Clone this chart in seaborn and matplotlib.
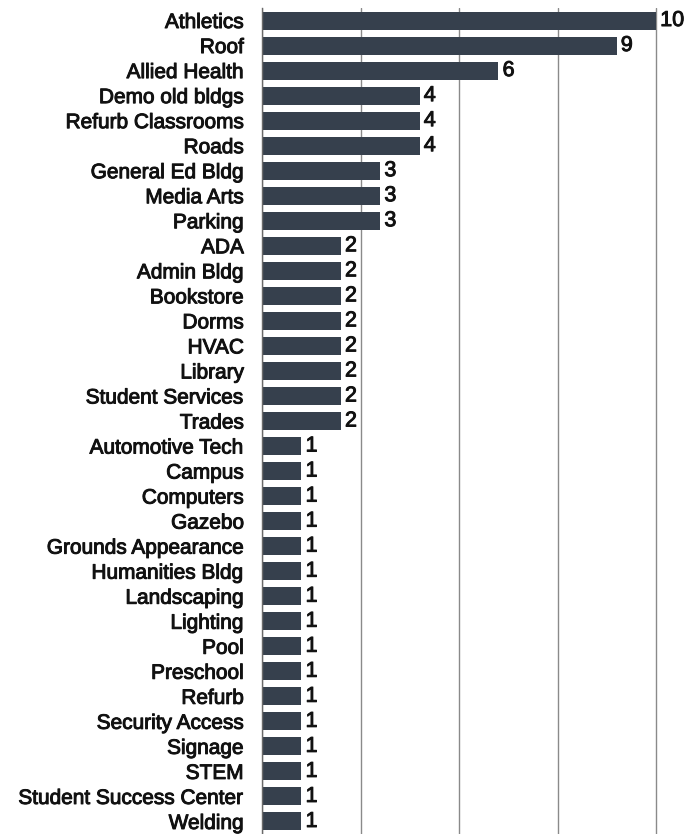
import matplotlib
matplotlib.use("Agg")
import matplotlib.pyplot as plt
import matplotlib.patheffects as pe
import seaborn as sns
import pandas as pd

projects = [
    "Athletics", "Roof", "Allied Health", "Demo old bldgs", "Refurb Classrooms",
    "Roads", "General Ed Bldg", "Media Arts", "Parking", "ADA", "Admin Bldg",
    "Bookstore", "Dorms", "HVAC", "Library", "Student Services", "Trades",
    "Automotive Tech", "Campus", "Computers", "Gazebo", "Grounds Appearance",
    "Humanities Bldg", "Landscaping", "Lighting", "Pool", "Preschool", "Refurb",
    "Security Access", "Signage", "STEM", "Student Success Center", "Welding",
]
mentions = [10, 9, 6, 4, 4, 4, 3, 3, 3, 2, 2, 2, 2, 2, 2, 2, 2,
            1, 1, 1, 1, 1, 1, 1, 1, 1, 1, 1, 1, 1, 1, 1, 1]
grid_ticks = [0, 2.5, 5, 7.5, 10]

df = pd.DataFrame({"project": projects, "mentions": mentions})

sns.set_style("white")
plt.rcParams["font.family"] = ["Liberation Sans", "DejaVu Sans"]

heavy = [pe.withStroke(linewidth=0.7, foreground="#111111")]

fig = plt.figure(figsize=(6.89, 8.34), dpi=100)
ax = fig.add_axes([262 / 689, 0.0, (658 - 262) / 689, (834 - 8) / 834])

sns.barplot(data=df, x="mentions", y="project", orient="h", color="#36404d",
            saturation=1, width=0.72, linewidth=0, ax=ax, order=projects)

ax.set_xlim(0, 10.05)
ax.set_xticks(grid_ticks)
ax.set_xticklabels([])
ax.tick_params(axis="x", length=0)
ax.tick_params(axis="y", length=0, pad=13, labelsize=15, labelcolor="#111111")
for t in ax.get_yticklabels():
    t.set_path_effects(heavy)
ax.grid(axis="x", color="#8a8a8a", linewidth=1.0)
ax.set_axisbelow(True)
for side in ["top", "right", "bottom"]:
    ax.spines[side].set_visible(False)
ax.spines["left"].set_color("#6a6a6a")
ax.spines["left"].set_linewidth(1.0)
ax.set_xlabel("")
ax.set_ylabel("")

labels = ax.bar_label(ax.containers[0], labels=[str(v) for v in mentions],
                      padding=3, fontsize=15.5, color="#111111")
for t in labels:
    t.set_clip_on(False)
    t.set_path_effects(heavy)

fig.savefig("out.png", dpi=100, facecolor="white")
